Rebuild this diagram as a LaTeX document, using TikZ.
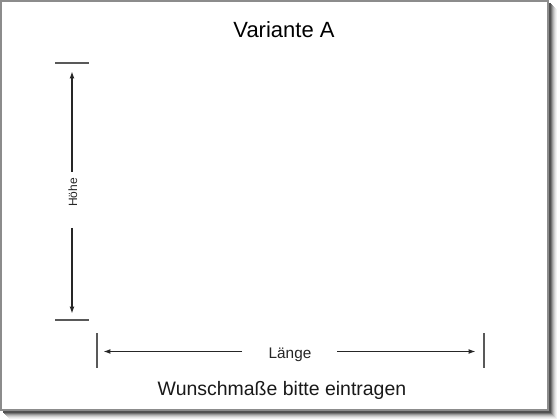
\documentclass[tikz,border=0pt]{standalone}
\usepackage{fontspec}
\setmainfont{Liberation Sans}
\usetikzlibrary{arrows.meta}

\tikzset{every picture/.style={line width=0.75pt}}
\tikzset{
  tickline/.style={draw=black!65, line width=0.9pt},
  dimarrow/.style={draw=black!85, line width=1.1pt, -{Latex[length=5.5pt,width=3.6pt]}},
  dimlabel/.style={inner sep=0pt, text=black!85},
}

\begin{document}
\begin{tikzpicture}[x=0.75pt,y=0.75pt,yscale=-1,xscale=1]
\useasboundingbox (0,0) rectangle (560,420);

%Shape: Shadow
\foreach \d/\c in {9/5,8/10,7/18,6/28,5/40,4/55,3/68}
  \fill[black!\c] (\d,\d) rectangle (548+\d,410+\d);
%Shape: Sheet
\draw[draw=black!45, fill=white, line width=1.2pt] (0.8,0.8) rectangle (548,410);

% Text Node
\node[anchor=base, inner sep=0pt, font=\fontsize{16.5}{19}\selectfont] (title) at (284,38) {Variante A};

%Coordinates: height
\coordinate (hTickTL) at (55,63);
\coordinate (hTickTR) at (89,63);
\coordinate (hTickBL) at (55,320);
\coordinate (hTickBR) at (89,320);
\coordinate (hTipTop) at (72,71);
\coordinate (hTipBot) at (72,314);
\coordinate (hGapTop) at (72,172);
\coordinate (hGapBot) at (72,228);
% Text Node
\node[dimlabel, rotate=90, anchor=base, font=\fontsize{9}{11}\selectfont] (hoehe) at (77,192.5) {Höhe};
%Straight Lines
\draw[tickline] (hTickTL) -- (hTickTR);
\draw[tickline] (hTickBL) -- (hTickBR);
\draw[dimarrow] (hGapTop) -- (hTipTop);
\draw[dimarrow] (hGapBot) -- (hTipBot);

%Coordinates: length
\coordinate (lTickLT) at (97,333);
\coordinate (lTickLB) at (97,368);
\coordinate (lTickRT) at (484,333);
\coordinate (lTickRB) at (484,368);
\coordinate (lTipL) at (103,351.5);
\coordinate (lTipR) at (476,351.5);
\coordinate (lGapL) at (242,351.5);
\coordinate (lGapR) at (337,351.5);
% Text Node
\node[dimlabel, anchor=base, font=\fontsize{11.5}{14}\selectfont] (laenge) at (290,358) {Länge};
%Straight Lines
\draw[tickline] (lTickLT) -- (lTickLB);
\draw[tickline] (lTickRT) -- (lTickRB);
\draw[dimarrow] (lGapL) -- (lTipL);
\draw[dimarrow] (lGapR) -- (lTipR);

% Text Node
\node[anchor=base, inner sep=0pt, font=\fontsize{14.6}{17}\selectfont, text=black!90] (hint) at (282,395) {Wunschmaße bitte eintragen};

\end{tikzpicture}
\end{document}
